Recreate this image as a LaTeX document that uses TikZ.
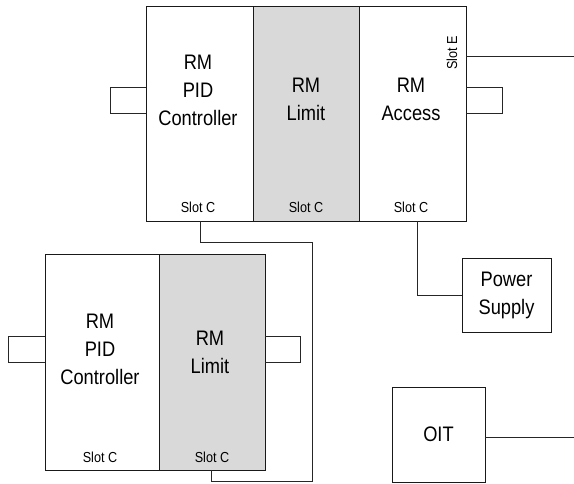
\documentclass[tikz,border=0pt]{standalone}
\usepackage{fontspec}
\setmainfont{Liberation Sans}
\newfontfamily\condfont[FakeStretch=0.87]{Liberation Sans}
\begin{document}
\begin{tikzpicture}[x=1pt,y=-1pt,
  modbox/.style={draw=black!90,line width=0.9pt,inner sep=0pt,outer sep=0pt,minimum height=215pt},
  shaded/.style={fill=black!15},
  devbox/.style={draw=black!90,line width=0.9pt,inner sep=0pt,outer sep=0pt},
  title/.style={align=center,font=\condfont\fontsize{21}{28}\selectfont,inner sep=0pt},
  slot/.style={font=\condfont\fontsize{14.5}{16}\selectfont,inner sep=0pt},
  wire/.style={draw=black!85,line width=0.8pt}]
\useasboundingbox (0,0) rectangle (574,483);
% top group
\node[modbox,minimum width=107pt] (tpid) at (199.5,113.5) {};
\node[modbox,shaded,minimum width=106pt] (tlim) at (306,113.5) {};
\node[modbox,minimum width=107pt] (tacc) at (412.5,113.5) {};
\draw[devbox] (tpid.north west) rectangle (tacc.south east);
\node[title] (tpidt) at (198,90) {RM\\PID\\Controller};
\node[title] (tlimt) at (306,99) {RM\\Limit};
\node[title] (tacct) at (411,99) {RM\\Access};
\node[slot] (tpids) at (198,207) {Slot C};
\node[slot] (tlims) at (306,207) {Slot C};
\node[slot] (taccs) at (411,207) {Slot C};
\node[slot,rotate=90] (tacce) at (452,53) {Slot E};
% bottom group
\node[modbox,minimum height=216pt,minimum width=114pt] (bpid) at (102,362) {};
\node[modbox,shaded,minimum height=216pt,minimum width=106pt] (blim) at (212,362) {};
\node[title] (bpidt) at (100,349) {RM\\PID\\Controller};
\node[title] (blimt) at (210,352) {RM\\Limit};
\node[slot] (bpids) at (100,457) {Slot C};
\node[slot] (blims) at (212,457) {Slot C};
% devices
\node[devbox,minimum width=89pt,minimum height=74pt,title] (ps) at (506.5,295) {Power\\Supply};
\node[devbox,minimum width=93pt,minimum height=95pt,title] (oit) at (438.5,434.5) {OIT};
\coordinate (eend) at (574,56);
\coordinate (oend) at (574,437);
% loops
\draw[wire] (tpid.west |- 0,87) -- (110,87) -- (110,113) -- (tpid.west |- 0,113);
\draw[wire] (tacc.east |- 0,87) -- (502,87) -- (502,113) -- (tacc.east |- 0,113);
\draw[wire] (bpid.west |- 0,336) -- (8,336) -- (8,362) -- (bpid.west |- 0,362);
\draw[wire] (blim.east |- 0,336) -- (300,336) -- (300,362) -- (blim.east |- 0,362);
% connections
\draw[wire] (tacc.east |- eend) -- (eend);
\draw[wire] (tpid.south -| 200,0) -- (200,242) -- (312,242) -- (312,481) -- (211,481) -- (blim.south -| 211,0);
\draw[wire] (tacc.south -| 417,0) -- (417,295) -- (ps.west);
\draw[wire] (oit.east |- oend) -- (oend);
\end{tikzpicture}
\end{document}
